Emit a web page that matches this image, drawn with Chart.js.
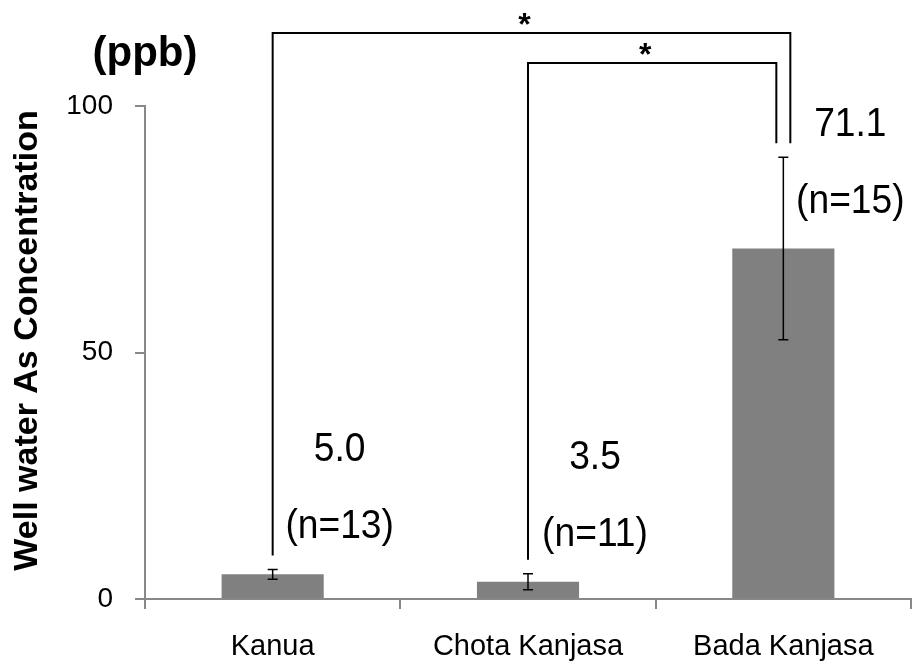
<!DOCTYPE html>
<html>
<head>
<meta charset="utf-8">
<script src="https://cdn.jsdelivr.net/npm/chart.js@4.4.1/dist/chart.umd.min.js"></script>
<style>
  html, body { margin: 0; padding: 0; background: #fff; }
  #wrap { width: 919px; height: 664px; position: relative; }
</style>
</head>
<body>
<div id="wrap"><canvas id="c"></canvas></div>
<script>
// ---- data ----
const categories = ['Kanua', 'Chota Kanjasa', 'Bada Kanjasa'];
const meanValues = [5.0, 3.5, 71.1];
const errorValues = [1.0, 1.6, 18.5];
const sampleSizes = [13, 11, 15];
const yTicks = [0, 50, 100];
const comparisons = [[0, 2, '*'], [1, 2, '*']];
const yAxisTitle = 'Well water As Concentration';
const unitLabel = '(ppb)';

const FONT = '"Liberation Sans", Arial, sans-serif';

const annotatePlugin = {
  id: 'annotate',
  afterDatasetsDraw(chart) {
    const ctx = chart.ctx;
    const xs = chart.scales.x, ys = chart.scales.y;
    const area = chart.chartArea;
    ctx.save();
    // error bars
    ctx.strokeStyle = '#000';
    ctx.lineWidth = 1.5;
    const errTop = [];
    meanValues.forEach((v, i) => {
      const x = xs.getPixelForValue(i);
      const yt = ys.getPixelForValue(v + errorValues[i]);
      const yb = ys.getPixelForValue(v - errorValues[i]);
      errTop.push(yt);
      ctx.beginPath();
      ctx.moveTo(x, yt); ctx.lineTo(x, yb);
      ctx.moveTo(x - 5, yt); ctx.lineTo(x + 5, yt);
      ctx.moveTo(x - 5, yb); ctx.lineTo(x + 5, yb);
      ctx.stroke();
    });
    // value and n labels
    ctx.fillStyle = '#000';
    ctx.textAlign = 'center';
    ctx.textBaseline = 'middle';
    ctx.font = '40px ' + FONT;
    meanValues.forEach((v, i) => {
      const x = xs.getPixelForValue(i) + 67;
      const yTop = ys.getPixelForValue(v);
      const lines = [[v.toFixed(1), yTop - 124], ['(n=' + sampleSizes[i] + ')', yTop - 47]];
      lines.forEach(([t, y]) => {
        ctx.save();
        ctx.translate(x, y);
        ctx.scale(0.93, 1);
        ctx.fillText(t, 0, 0);
        ctx.restore();
      });
    });
    // significance brackets
    ctx.lineWidth = 2;
    const levels = [area.top - 73, area.top - 43];
    comparisons.forEach(([a, b, mark], k) => {
      const topY = levels[k];
      const xa = xs.getPixelForValue(a);
      const xb = xs.getPixelForValue(b) + (k === 0 ? 7 : -7);
      ctx.beginPath();
      ctx.moveTo(xa, errTop[a] - 14);
      ctx.lineTo(xa, topY);
      ctx.lineTo(xb, topY);
      ctx.lineTo(xb, errTop[b] - 14);
      ctx.stroke();
      ctx.font = 'bold 32px ' + FONT;
      ctx.textBaseline = 'middle';
      ctx.fillText(mark, (xa + xb) / 2 - 7, topY - 7);
    });
    // unit label
    ctx.font = 'bold 42px ' + FONT;
    ctx.textAlign = 'center';
    ctx.textBaseline = 'middle';
    ctx.fillText(unitLabel, area.left, area.top - 52);
    // y axis title
    ctx.save();
    ctx.translate(28, (area.top + area.bottom) / 2 - 12);
    ctx.rotate(-Math.PI / 2);
    ctx.font = 'bold 34px ' + FONT;
    ctx.fillText(yAxisTitle, 0, 0);
    ctx.restore();
    ctx.restore();
  }
};

new Chart(document.getElementById('c'), {
  type: 'bar',
  data: {
    labels: categories,
    datasets: [{
      data: meanValues,
      backgroundColor: '#808080',
      borderWidth: 0,
      categoryPercentage: 1.0,
      barPercentage: 0.4
    }]
  },
  options: {
    responsive: true,
    maintainAspectRatio: false,
    animation: false,
    layout: { padding: { top: 106, right: 8, left: 0, bottom: 0 } },
    plugins: { legend: { display: false }, tooltip: { enabled: false } },
    scales: {
      x: {
        grid: { offset: true, drawOnChartArea: false, drawTicks: true, tickLength: 10, color: '#888', lineWidth: 2 },
        border: { color: '#888', width: 2 },
        ticks: { color: '#000', font: { family: FONT, size: 29 }, padding: 21, maxRotation: 0 },
        afterFit(s) { s.height = 65; }
      },
      y: {
        min: 0, max: 100,
        afterBuildTicks(s) { s.ticks = yTicks.map(v => ({ value: v })); },
        grid: { drawOnChartArea: false, drawTicks: true, tickLength: 10, color: '#888', lineWidth: 2 },
        border: { color: '#888', width: 2 },
        ticks: { color: '#000', font: { family: FONT, size: 28 }, padding: 22 },
        afterFit(s) { s.width = 145; }
      }
    }
  },
  plugins: [annotatePlugin]
});
</script>
</body>
</html>
